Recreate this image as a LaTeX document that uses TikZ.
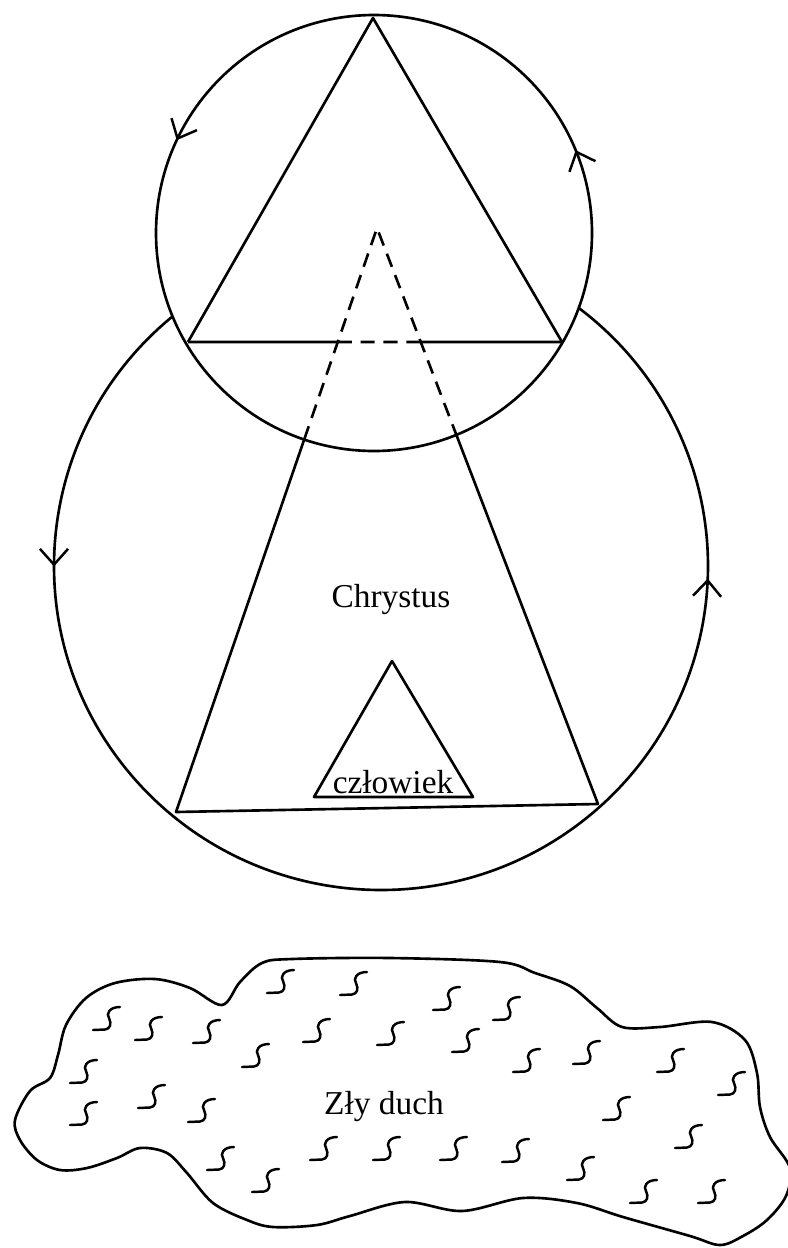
\documentclass[tikz,border=0pt]{standalone}
\usepackage{fontspec}
\setmainfont{Liberation Serif}
\usetikzlibrary{arrows.meta,decorations.markings,calc}
\tikzset{
  lbl/.style={font=\fontsize{19}{21}\selectfont, inner sep=0pt},
  hidden/.style={dash pattern=on 8pt off 5pt},
  flowtip/.tip={Straight Barb[length=9pt,width=16pt,line width=1.4pt]},
  wig/.pic={\draw[line width=1.4pt,line cap=round] (0,0) -- (12,0.5) .. controls (17,1) and (19,6) .. (16,12) .. controls (13,16) and (16,23) .. (27,23);}
}
\begin{document}
\begin{tikzpicture}[x=0.02cm,y=0.02cm,line width=1.5pt,line join=round]
\useasboundingbox (0,0) rectangle (788,-1248);
\fill[white] (0,0) rectangle (788,-1248);

% key points
\coordinate (c1) at (374,-233);
\coordinate (A)  at (373,-18);
\coordinate (TL) at (188,-342);
\coordinate (TR) at (562,-342);
\coordinate (BA) at (377,-228);
\coordinate (BL) at (176,-812);
\coordinate (BR) at (598,-804);
\coordinate (c2) at (381,-566);
\coordinate (XL) at ($(BA)!0.1952!(BL)$);
\coordinate (XR) at ($(BA)!0.1979!(BR)$);
\coordinate (PL) at ($(BA)!0.3622!(BL)$);
\coordinate (PR) at ($(BA)!0.3591!(BR)$);

% top circle with flow arrows
\draw[postaction={decorate},decoration={markings,
  mark=at position 0.062 with {\arrow{flowtip}},
  mark=at position 0.43 with {\arrow{flowtip}}}]
  (c1) circle[radius=218];

% big circle (outside the top circle)
\draw[postaction={decorate},decoration={markings,
  mark=at position 0.178 with {\arrow{flowtip}},
  mark=at position 0.806 with {\arrow{flowtip}}}]
  ($(c2)+(129.6:327 and 324)$) arc[start angle=129.6,end angle=412.8,x radius=327,y radius=324];

% top triangle
\draw (TL) -- (A) -- (TR);
\draw (TL) -- (XL);
\draw[hidden] (XL) -- (XR);
\draw (XR) -- (TR);

% big triangle
\draw[hidden] (PL) -- (BA) -- (PR);
\draw (PL) -- (BL) -- (BR) -- (PR);

% small triangle
\draw (392,-661) -- (473,-797) -- (314,-797) -- cycle;

\node[lbl] (chr) at (391,-600) {Chrystus};
\node[lbl] (czl) at (393,-782) {człowiek};

% evil spirit blob
\draw plot[smooth cycle,tension=0.55] coordinates {
 (15,-1120) (30,-1091) (50,-1078) (58,-1055) (66,-1025) (86,-998) (115,-983)
 (155,-979) (190,-988) (222,-1005) (240,-982) (262,-963) (292,-959)
 (390,-958) (500,-962) (535,-973) (570,-986) (597,-1008) (622,-1027)
 (660,-1027) (712,-1022) (745,-1040) (757,-1073) (760,-1107) (770,-1137)
 (790,-1168) (786,-1196) (767,-1220) (743,-1236) (720,-1245) (690,-1236)
 (623,-1217) (577,-1203) (523,-1198) (462,-1211) (405,-1202)
 (350,-1216) (317,-1225) (273,-1227) (247,-1220) (213,-1203) (187,-1173)
 (167,-1153) (140,-1148) (117,-1158) (87,-1168) (60,-1170) (37,-1160) (20,-1140)};

\node[lbl] (zly) at (384,-1107) {Zły duch};

\foreach \p in {(267,-993),(340,-995),(93,-1030),(135,-1040),(193,-1043),
  (303,-1042),(377,-1045),(242,-1067),(70,-1083),(138,-1108),(70,-1125),
  (188,-1122),(207,-1170),(252,-1192),(310,-1160),(373,-1160),
  (433,-1010),(493,-1020),(452,-1052),(513,-1072),(573,-1064),(657,-1072),
  (718,-1095),(603,-1120),(675,-1148),(440,-1160),(502,-1162),(567,-1180),
  (630,-1203),(698,-1203)}
  \pic at \p {wig};
\end{tikzpicture}
\end{document}
